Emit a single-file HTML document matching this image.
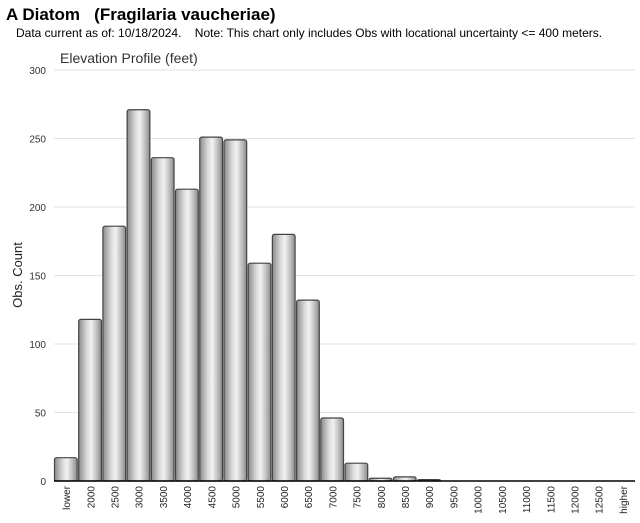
<!DOCTYPE html>
<html><head><meta charset="utf-8"><style>
body{margin:0;background:#fff;width:640px;height:523px;overflow:hidden;font-family:"Liberation Sans",sans-serif}
</style></head><body>
<div style="position:absolute;left:6px;top:5px;font-size:17px;font-weight:bold;white-space:pre">A Diatom   (Fragilaria vaucheriae)</div>
<div style="position:absolute;left:16px;top:26px;font-size:12px;white-space:pre">Data current as of: 10/18/2024.    Note: This chart only includes Obs with locational uncertainty &lt;= 400 meters.</div>
<svg id="c" width="640" height="523" style="position:absolute;left:0;top:0">
<defs><linearGradient id="g" x1="0" x2="1" y1="0" y2="0">
<stop offset="0" stop-color="#8a8a8a"/><stop offset="0.35" stop-color="#d8d8d8"/><stop offset="0.55" stop-color="#f2f2f2"/><stop offset="0.8" stop-color="#bdbdbd"/><stop offset="1" stop-color="#8a8a8a"/></linearGradient></defs>
<text x="60" y="63" font-size="14" fill="#333" font-family="Liberation Sans, sans-serif">Elevation Profile (feet)</text>
<text transform="translate(22,275) rotate(-90)" text-anchor="middle" font-size="13" fill="#222" font-family="Liberation Sans, sans-serif">Obs. Count</text>
</svg>
<script>
const categories=["lower","2000","2500","3000","3500","4000","4500","5000","5500","6000","6500","7000","7500","8000","8500","9000","9500","10000","10500","11000","11500","12000","12500","higher"];
const counts=[17,118,186,271,236,213,251,249,159,180,132,46,13,2,3,1,0,0,0,0,0,0,0,0];
const yTicks=[0,50,100,150,200,250,300];
const svg=document.getElementById('c');const NS='http://www.w3.org/2000/svg';
const x0=54,x1=635,yb=481,yt=70,ymax=300;
const slot=(x1-x0)/categories.length;
const y=v=>yb-(v/ymax)*(yb-yt);
function mk(t,a){const e=document.createElementNS(NS,t);for(const k in a)e.setAttribute(k,a[k]);svg.appendChild(e);return e;}
yTicks.forEach(v=>{
 const l=mk('line',{x1:x0,x2:x1,y1:y(v),y2:y(v),stroke:'#e2e2e2'});
 
 
 const t=mk('text',{x:46,y:y(v)+4,'text-anchor':'end','font-size':10,fill:'#333','font-family':'Liberation Sans, sans-serif'});
 t.textContent=v;
 
 
});
categories.forEach((c,i)=>{
 const v=counts[i];const bx=x0+i*slot+0.5;
 if(v>0){const r=mk('rect',{x:bx,y:y(v),width:slot-1.5,height:yb-y(v),fill:'url(#g)',stroke:'#444','stroke-width':1.2,rx:2});
 
 }
 const cx=x0+(i+0.5)*slot+4;
 const t=mk('text',{transform:`translate(${cx},486) rotate(-90)`,'text-anchor':'end','font-size':10,fill:'#222','font-family':'Liberation Sans, sans-serif'});
 t.textContent=c;
 
 
});
const ax=mk('line',{x1:x0,x2:x1,y1:yb,y2:yb,stroke:'#000','stroke-width':1.5});


</script>
</body></html>
